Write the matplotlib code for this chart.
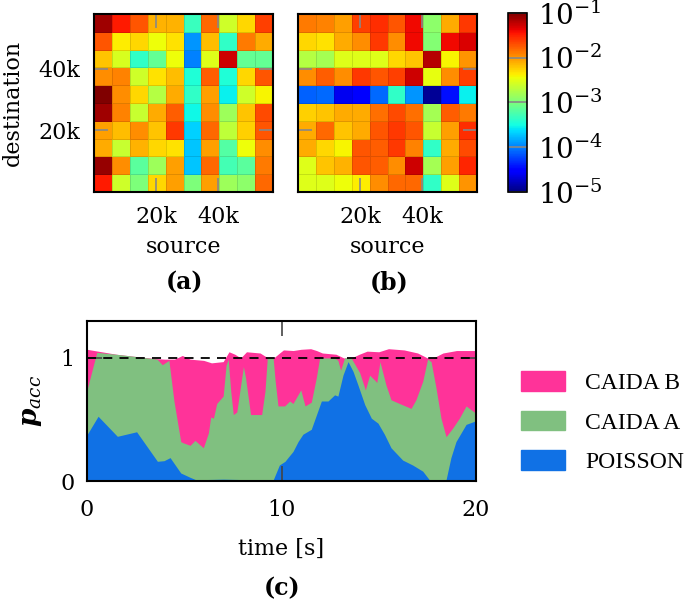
import numpy as np
import matplotlib
matplotlib.use('Agg')
import matplotlib.pyplot as plt
from matplotlib.colors import LogNorm
from matplotlib.patches import Patch

plt.rcParams['font.family'] = ['DejaVu Serif']
plt.rcParams['mathtext.fontset'] = 'dejavuserif'

# log10 of traffic share per (destination row, source column), top row first
traffic_a = np.array([
    [-1.12, -1.48, -1.72, -2.12, -2.12, -3.32, -1.80, -2.60, -2.28, -1.64],
    [-1.72, -2.36, -2.28, -2.44, -2.32, -3.92, -2.16, -3.36, -1.88, -2.08],
    [-2.20, -2.56, -3.36, -3.12, -2.44, -4.00, -2.52, -1.28, -3.12, -3.12],
    [-1.96, -1.92, -2.60, -2.32, -2.16, -3.44, -1.76, -3.44, -2.28, -1.72],
    [-1.00, -1.96, -2.28, -2.72, -2.08, -3.36, -2.04, -3.56, -2.60, -2.40],
    [-1.12, -1.92, -2.64, -2.08, -1.76, -3.52, -1.96, -2.84, -2.20, -1.68],
    [-2.04, -2.16, -1.96, -2.20, -1.60, -3.68, -1.80, -2.68, -2.24, -1.72],
    [-2.08, -2.64, -2.12, -2.28, -2.32, -3.72, -2.04, -3.20, -2.44, -1.96],
    [-1.08, -1.96, -3.16, -2.84, -2.04, -3.72, -1.80, -3.28, -3.16, -1.88],
    [-1.48, -2.60, -3.00, -2.28, -2.04, -3.00, -2.04, -2.84, -2.92, -1.80],
])
traffic_b = np.array([
    [-1.88, -1.92, -2.04, -1.64, -1.56, -1.72, -1.40, -2.92, -2.08, -1.60],
    [-2.28, -2.32, -2.08, -1.96, -1.60, -1.96, -1.40, -2.96, -1.40, -1.32],
    [-2.72, -2.80, -2.52, -2.52, -2.52, -2.28, -2.20, -1.20, -2.40, -2.00],
    [-1.96, -1.76, -1.96, -1.60, -1.72, -1.64, -1.28, -2.48, -1.96, -1.64],
    [-4.12, -4.08, -4.60, -4.52, -4.08, -3.36, -3.92, -4.92, -4.44, -3.56],
    [-2.24, -2.20, -2.08, -2.08, -1.84, -1.68, -1.84, -2.80, -1.76, -1.88],
    [-2.08, -1.80, -2.20, -2.08, -1.72, -1.60, -1.72, -2.64, -2.04, -1.56],
    [-2.08, -2.28, -2.40, -1.72, -1.76, -1.60, -1.92, -3.36, -2.08, -1.68],
    [-2.52, -2.20, -2.12, -1.72, -1.76, -1.96, -1.28, -2.80, -2.04, -1.52],
    [-2.52, -2.52, -2.44, -2.36, -1.96, -1.80, -1.80, -3.36, -2.52, -2.00],
])
addr_ticks = [20000, 40000]
addr_ticklabels = ['20k', '40k']
cbar_ticks = [1e-5, 1e-4, 1e-3, 1e-2, 1e-1]

# p_acc over time, one curve per traffic model
t_caida_b = [0.0, 1.5, 2.6, 3.5, 4.0, 4.5, 4.9, 5.3, 6.0, 6.4, 7.0, 7.3, 7.6, 7.9,
             8.2, 8.9, 9.3, 9.6, 9.9, 10.1, 10.6, 11.0, 11.5, 11.8, 12.1, 12.8,
             13.2, 13.6, 14.0, 14.4, 15.0, 15.5, 16.3, 17.0, 17.5, 17.8, 18.3,
             19.0, 20.0]
p_caida_b = [1.07, 1.03, 1.01, 0.995, 0.99, 0.99, 1.02, 0.99, 0.98, 0.96, 0.97,
             1.05, 1.03, 1.0, 1.05, 1.04, 1.0, 1.0, 1.04, 1.065, 1.06, 1.07,
             1.075, 1.06, 1.04, 1.03, 1.0, 1.0, 1.03, 1.055, 1.05, 1.075, 1.065,
             1.04, 1.0, 1.0, 1.04, 1.06, 1.06]
t_caida_a = [0.0, 0.5, 1.5, 2.6, 3.6, 3.87, 4.21, 4.47, 4.82, 4.95, 5.3, 5.55,
             5.98, 6.24, 6.36, 6.5, 6.67, 7.0, 7.15, 7.26, 7.39, 7.52, 7.7, 8.04,
             8.15, 8.41, 8.98, 9.15, 9.27, 9.57, 9.67, 9.82, 10.16, 10.42, 10.59,
             10.99, 11.21, 11.53, 11.79, 11.96, 12.73, 12.9, 13.04, 13.24, 13.58,
             14.02, 14.31, 14.53, 14.79, 14.9, 15.06, 15.37, 15.63, 16.06, 16.66,
             16.91, 17.26, 17.51, 17.69, 17.94, 18.2, 18.46, 18.8, 19.14, 19.49,
             19.74, 20.0]
p_caida_a = [0.74, 1.045, 1.03, 1.01, 0.99, 0.945, 0.98, 0.65, 0.32, 0.31, 0.29,
             0.33, 0.27, 0.39, 0.52, 0.51, 0.63, 0.69, 0.94, 0.99, 0.73, 0.54,
             0.56, 0.93, 0.84, 0.54, 0.54, 0.73, 1.0, 1.0, 0.82, 0.61, 0.61,
             0.65, 0.63, 0.74, 0.61, 0.64, 0.84, 1.0, 1.0, 0.98, 0.90, 1.0, 1.0,
             0.88, 0.74, 0.86, 0.82, 0.80, 0.97, 0.78, 0.66, 0.63, 0.59, 0.66,
             0.81, 0.99, 0.97, 0.76, 0.51, 0.36, 0.43, 0.51, 0.61, 0.58, 0.55]
t_poisson = [0.0, 0.57, 1.56, 2.55, 3.62, 3.96, 4.27, 4.82, 5.3, 5.6, 7.0, 8.5,
             9.55, 9.89, 10.18, 10.33, 10.59, 10.85, 11.1, 11.53, 12.05, 12.39,
             12.73, 12.9, 13.16, 13.42, 13.68, 13.93, 14.28, 14.62, 14.96, 15.29,
             15.63, 16.23, 16.74, 17.26, 17.6, 18.46, 18.71, 18.97, 19.49, 20.0]
p_poisson = [0.376, 0.526, 0.363, 0.40, 0.16, 0.165, 0.19, 0.065, 0.03, 0.01,
             0.015, 0.01, 0.0, 0.13, 0.16, 0.19, 0.24, 0.32, 0.38, 0.42, 0.65,
             0.65, 0.70, 0.69, 0.86, 0.97, 0.89, 0.78, 0.62, 0.51, 0.47, 0.38,
             0.27, 0.17, 0.13, 0.08, 0.01, 0.01, 0.19, 0.32, 0.46, 0.49]

series = [('CAIDA B', t_caida_b, p_caida_b, '#ff3399'),
          ('CAIDA A', t_caida_a, p_caida_a, '#80c080'),
          ('POISSON', t_poisson, p_poisson, '#1071e5')]

W, H = 685, 607
fig = plt.figure(figsize=(W / 100, H / 100), dpi=100)

def px_box(x0, y0, x1, y1):
    return [x0 / W, 1 - y1 / H, (x1 - x0) / W, (y1 - y0) / H]

norm = LogNorm(vmin=1e-5, vmax=1e-1)
edges = np.linspace(0, 57700, 11)
fs = 16

ax_a = fig.add_axes(px_box(94, 14, 273, 192))
ax_b = fig.add_axes(px_box(298, 14, 477, 192))
cax = fig.add_axes(px_box(508, 13, 527, 192))

for ax, data in [(ax_a, traffic_a), (ax_b, traffic_b)]:
    mesh = ax.pcolormesh(edges, edges, 10 ** np.flipud(data), cmap='jet', norm=norm,
                         edgecolors=(0, 0, 0, 0.12), linewidth=0.6)
    ax.set_xlim(edges[0], edges[-1])
    ax.set_ylim(edges[0], edges[-1])
    ax.set_xticks(addr_ticks)
    ax.set_xticklabels(addr_ticklabels)
    ax.set_yticks(addr_ticks)
    ax.tick_params(direction='in', length=10, width=1.2, color='#888888',
                   top=True, right=True, labelsize=fs, pad=10)
    for s in ax.spines.values():
        s.set_linewidth(1.5)
    ax.set_xlabel('source', fontsize=fs, labelpad=6)

ax_a.set_yticklabels(addr_ticklabels)
ax_a.set_ylabel('destination', fontsize=fs, labelpad=10)
ax_b.set_yticklabels([])

cb = fig.colorbar(mesh, cax=cax, ticks=cbar_ticks)
cb.ax.tick_params(direction='in', length=14, width=1.2, color='#888888',
                  labelsize=20, pad=8)
cb.ax.minorticks_off()
cb.outline.set_linewidth(1.2)

fig.text(185 / W, 1 - 282 / H, '(a)', fontsize=fs + 1, fontweight='bold',
         ha='center', va='center')
fig.text(389 / W, 1 - 282 / H, '(b)', fontsize=fs + 1, fontweight='bold',
         ha='center', va='center')

ax_c = fig.add_axes(px_box(87, 321, 476, 481))
for name, t, p, col in series:
    ax_c.fill_between(t, 0, p, color=col, linewidth=0, label=name)
ax_c.axhline(1.0, color='black', linestyle=(0, (5, 4)), linewidth=1.3)
ax_c.set_xlim(0, 20)
ax_c.set_ylim(0, 1.3)
ax_c.set_xticks([0, 10, 20])
ax_c.set_yticks([0, 1])
ax_c.tick_params(direction='in', length=11, width=1.2, color='#444444',
                 top=True, right=True, labelsize=fs, pad=9)
ax_c.tick_params(axis='x', pad=13)
for s in ax_c.spines.values():
    s.set_linewidth(1.5)
ax_c.set_xlabel('time [s]', fontsize=fs, labelpad=12)
ax_c.set_ylabel(r'$\mathbfit{p}_{\mathit{acc}}$', fontsize=fs + 3, labelpad=12)

fig.text(282 / W, 1 - 588 / H, '(c)', fontsize=fs + 1, fontweight='bold',
         ha='center', va='center')

handles = [Patch(facecolor=col, edgecolor=col, label=name) for name, t, p, col in series]
fig.legend(handles=handles, loc='upper left', bbox_to_anchor=(500 / W, 1 - 350 / H),
           frameon=False, prop={'family': 'Liberation Serif', 'size': 17},
           handlelength=1.85, handleheight=0.9, handletextpad=0.85, labelspacing=0.7)

fig.savefig('out.png', dpi=100)
